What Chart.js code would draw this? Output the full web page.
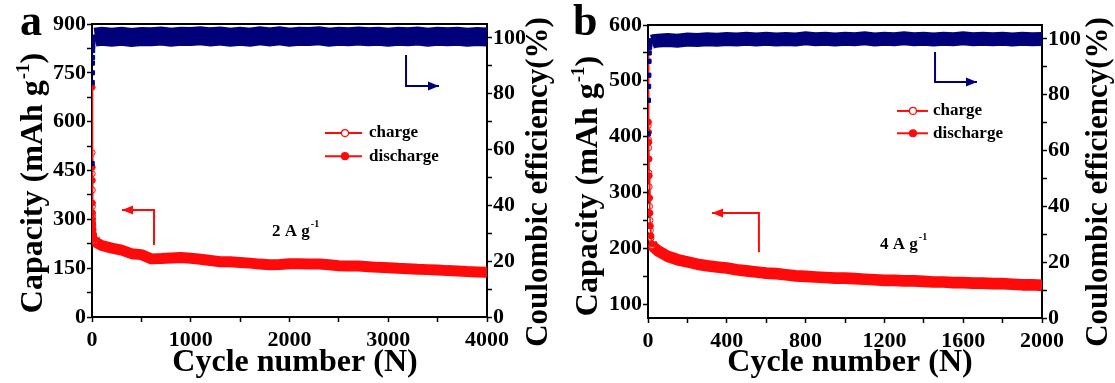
<!DOCTYPE html>
<html><head><meta charset="utf-8">
<script src="https://cdn.jsdelivr.net/npm/chart.js@4.4.1/dist/chart.umd.min.js"></script>
<style>
html,body{margin:0;padding:0;background:#fff;}
#wrap{position:relative;width:1115px;height:383px;overflow:hidden;background:#fff;}
.panel{position:absolute;top:0;height:383px;}
#pa{left:0;width:557px;}
#pb{left:557px;width:558px;}
</style></head><body>
<div id="wrap"><div class="panel" id="pa"><canvas id="ca"></canvas></div><div class="panel" id="pb"><canvas id="cb"></canvas></div></div>
<script>
// ---------------- DATA (panel a, 2 A g-1) ----------------
const cyclesEarlyA    = [1, 2, 3, 4, 5, 6, 8, 10, 15, 20, 30];
const dischargeEarlyA = [706, 460, 420, 350, 320, 300, 285, 270, 255, 245, 238];
const chargeEarlyA    = [505, 440, 390, 340, 310, 290, 278, 265, 250, 242, 234];
const ceEarlyA        = [55, 84, 87.5, 91, 93, 95.5, 97, 98.5, 99.5, 100, 100.3];

const cyclesA = [30, 50, 100, 200, 300, 400, 500, 600, 700, 800, 900, 1000, 1100, 1200, 1300, 1400, 1500,
  1600, 1700, 1800, 1900, 2000, 2100, 2200, 2300, 2400, 2500, 2600, 2700, 2800, 2900, 3000, 3100, 3200,
  3300, 3400, 3500, 3600, 3700, 3800, 3900, 4000];
const dischargeA = [238, 229, 221, 213, 207, 196, 193, 180, 181, 183, 184, 182, 179, 175, 171, 171, 169,
  167, 164, 162, 163, 165, 165, 164, 164, 162, 159, 158, 158, 156, 154, 153, 151, 150,
  148, 147, 146, 144, 143, 141, 140, 139];
const chargeA = [234, 226, 218, 210, 204, 193, 190, 177, 178, 180, 181, 179, 176, 172, 168, 168, 166,
  164, 161, 159, 160, 162, 162, 161, 161, 159, 156, 155, 155, 153, 151, 150, 148, 147,
  145, 144, 143, 141, 140, 138, 137, 136];
const ceA = [100.3, 100.4, 100.6, 100.3, 100.6, 100.2, 100.5, 100.4, 100.7, 100.3, 100.6, 100.5, 100.8, 100.4,
  100.7, 100.3, 100.6, 100.3, 100.8, 100.4, 100.8, 100.3, 100.6, 100.5, 100.8, 100.3, 100.6, 100.4,
  100.7, 100.4, 100.6, 100.3, 100.6, 100.4, 100.7, 100.3, 100.6, 100.4, 100.6, 100.3, 100.5, 100.3];

// ---------------- DATA (panel b, 4 A g-1) ----------------
const cyclesEarlyB    = [1, 2, 3, 4, 5, 6, 8, 10, 12, 15, 20];
const dischargeEarlyB = [566, 426, 408, 390, 360, 330, 290, 263, 240, 222, 208];
const chargeEarlyB    = [420, 395, 380, 360, 335, 310, 275, 250, 232, 218, 205];
const ceEarlyB        = [66, 78, 83, 87, 92, 95, 97, 98, 99, 99.3, 99.3];

const cyclesB = [20, 30, 50, 100, 150, 200, 250, 300, 350, 400, 450, 500, 550, 600, 650, 700, 750, 800,
  850, 900, 950, 1000, 1050, 1100, 1150, 1200, 1250, 1300, 1350, 1400, 1450, 1500, 1550, 1600,
  1650, 1700, 1750, 1800, 1850, 1900, 1950, 2000];
const dischargeB = [209, 203, 197, 187, 181, 177, 173, 170, 168, 166, 163, 161, 159, 157, 156, 154, 152, 151,
  150, 149, 148, 148, 147, 146, 145, 144, 144, 143, 143, 142, 141, 141, 140, 140,
  139, 139, 138, 138, 137, 136, 136, 135];
const chargeB = [205, 200, 194, 184, 178, 174, 170, 167, 165, 163, 160, 158, 156, 154, 153, 151, 149, 148,
  147, 146, 145, 145, 144, 143, 142, 141, 141, 140, 140, 139, 138, 138, 137, 137,
  136, 136, 135, 135, 134, 133, 133, 132];
const ceB = [99.0, 99.2, 99.4, 99.6, 99.4, 99.8, 99.6, 99.9, 99.7, 100.0, 99.8, 100.1, 99.8, 100.1, 99.8,
  100.0, 99.8, 100.2, 99.9, 100.1, 99.8, 100.1, 99.9, 100.2, 99.8, 100.1, 99.9, 100.2, 99.9, 100.1,
  99.8, 100.1, 99.9, 100.2, 99.9, 100.1, 99.9, 100.1, 99.8, 100.1, 99.9, 100.0];

// ---------------- STYLE / LAYOUT ----------------
const FONT = "'Liberation Serif', 'Times New Roman', serif";
const RED = '#ff0a0a';
const BLUE = '#00007a';
const tickFont = {family: FONT, size: 22, weight: 'bold'};

function pts(xs, ys) { return xs.map((x, i) => ({x: x, y: ys[i]})); }

function measureParts(ctx, parts, size) {
  let w = 0;
  for (const [t, sup] of parts) {
    ctx.font = 'bold ' + (sup ? Math.round(size * 0.58) : size) + 'px ' + FONT;
    w += ctx.measureText(t).width + (sup ? 1 : 0);
  }
  return w;
}
function drawParts(ctx, x, y, parts, size) {
  let cx = x;
  for (const [t, sup] of parts) {
    ctx.font = 'bold ' + (sup ? Math.round(size * 0.58) : size) + 'px ' + FONT;
    ctx.fillText(t, cx + (sup ? 1 : 0), sup ? y - size * 0.42 : y);
    cx += ctx.measureText(t).width + (sup ? 1 : 0);
  }
}
function arrow(ctx, p, color) {
  ctx.save();
  ctx.strokeStyle = color; ctx.fillStyle = color; ctx.lineWidth = 2;
  ctx.beginPath(); ctx.moveTo(p[0][0], p[0][1]);
  for (let i = 1; i < p.length; i++) ctx.lineTo(p[i][0], p[i][1]);
  ctx.stroke();
  const [x1, y1] = p[p.length - 2], [x2, y2] = p[p.length - 1];
  const a = Math.atan2(y2 - y1, x2 - x1), L = 11, W = 4.5;
  ctx.beginPath();
  ctx.moveTo(x2, y2);
  ctx.lineTo(x2 - L * Math.cos(a) + W * Math.sin(a), y2 - L * Math.sin(a) - W * Math.cos(a));
  ctx.lineTo(x2 - L * Math.cos(a) - W * Math.sin(a), y2 - L * Math.sin(a) + W * Math.cos(a));
  ctx.closePath(); ctx.fill();
  ctx.restore();
}

function makeDecor(cfg) {
  return {
    id: 'decor',
    afterDraw(chart) {
      const ctx = chart.ctx, ca = chart.chartArea;
      const sx = chart.scales.x, sy = chart.scales.y, sy2 = chart.scales.y2;
      ctx.save();
      // top frame line
      ctx.strokeStyle = '#000'; ctx.lineWidth = 2;
      ctx.beginPath(); ctx.moveTo(ca.left, ca.top); ctx.lineTo(ca.right, ca.top); ctx.stroke();
      ctx.fillStyle = '#000';
      ctx.textBaseline = 'alphabetic'; ctx.textAlign = 'left';
      // panel letter
      ctx.font = 'bold 44px ' + FONT;
      ctx.fillText(cfg.letter, cfg.letterX, 35);
      // bottom title
      ctx.font = 'bold 32px ' + FONT;
      ctx.textAlign = 'center';
      ctx.fillText('Cycle number (N)', cfg.bottomTitleX, 371);
      ctx.textAlign = 'left';
      // left title (rotated)
      const lparts = [['Capacity (mAh g', false], ['-1', true], [')', false]];
      let w = measureParts(ctx, lparts, 32);
      ctx.save(); ctx.translate(cfg.leftTitleX, cfg.leftTitleY); ctx.rotate(-Math.PI / 2);
      drawParts(ctx, -w / 2, 0, lparts, 32); ctx.restore();
      // right title (rotated, reading upwards)
      const rparts = [['Coulombic efficiency(%)', false]];
      w = measureParts(ctx, rparts, 31);
      ctx.save(); ctx.translate(cfg.rightTitleX, cfg.rightTitleY); ctx.rotate(-Math.PI / 2);
      drawParts(ctx, -w / 2, 0, rparts, 31); ctx.restore();
      // arrows
      arrow(ctx, cfg.redArrow.map(([x, y]) => [sx.getPixelForValue(x), sy.getPixelForValue(y)]), RED);
      arrow(ctx, cfg.blueArrow.map(([x, y]) => [sx.getPixelForValue(x), sy2.getPixelForValue(y)]), BLUE);
      // current density label
      ctx.fillStyle = '#000'; ctx.textBaseline = 'middle';
      drawParts(ctx, sx.getPixelForValue(cfg.rate[0]), sy.getPixelForValue(cfg.rate[1]),
        [[cfg.rateText, false], ['-1', true]], 17);
      // legend
      const lg = cfg.legend;
      const lx1 = sx.getPixelForValue(lg.x1), lx2 = sx.getPixelForValue(lg.x2), lxm = sx.getPixelForValue(lg.xm);
      const ltx = sx.getPixelForValue(lg.xt);
      [[lg.y1, 'charge', '#fff'], [lg.y2, 'discharge', RED]].forEach(([yv, txt, fill]) => {
        const py = sy.getPixelForValue(yv);
        ctx.strokeStyle = RED; ctx.lineWidth = 2;
        ctx.beginPath(); ctx.moveTo(lx1, py); ctx.lineTo(lx2, py); ctx.stroke();
        ctx.beginPath(); ctx.arc(lxm, py, 3.5, 0, Math.PI * 2);
        ctx.fillStyle = fill; ctx.fill(); ctx.lineWidth = 1.2; ctx.stroke();
        ctx.fillStyle = '#000'; ctx.font = 'bold 17px ' + FONT; ctx.textBaseline = 'middle';
        ctx.fillText(txt, ltx, py);
      });
      ctx.restore();
    }
  };
}

function axisY(cfg, which) {
  const right = which === 'y2';
  return {
    type: 'linear', position: right ? 'right' : 'left',
    min: right ? 0 : cfg.yMin, max: right ? cfg.y2Max : cfg.yMax,
    ticks: {stepSize: right ? 10 : cfg.yStep, autoSkip: false, includeBounds: false, color: '#000', font: tickFont,
      padding: 1, callback: (v) => (v % (right ? 20 : cfg.yMajor) === 0 ? String(v) : '')},
    grid: {drawOnChartArea: false, drawTicks: true, tickLength: 5, tickColor: '#000', tickWidth: 1.5},
    border: {display: true, color: '#000', width: 2},
    afterFit: (s) => { s.width = right ? cfg.rightW : cfg.leftW; }
  };
}

function makeChart(cfg, d) {
  return new Chart(document.getElementById(cfg.el), {
    type: 'line',
    data: {datasets: [
      {label: 'CE early', yAxisID: 'y2', data: pts(d.ce0x, d.ce0), showLine: false, pointStyle: 'rect',
        pointRadius: 3, pointBackgroundColor: BLUE, pointBorderColor: BLUE, borderColor: BLUE},
      {label: 'discharge early', yAxisID: 'y', data: pts(d.e0x, d.dis0), borderColor: RED, borderWidth: 1.5,
        pointRadius: 3, pointBackgroundColor: RED, pointBorderColor: RED, pointBorderWidth: 1},
      {label: 'charge early', yAxisID: 'y', data: pts(d.e0x, d.ch0), borderColor: RED, borderWidth: 1.5,
        pointRadius: 3, pointBackgroundColor: '#fff', pointBorderColor: RED, pointBorderWidth: 1},
      {label: 'discharge', yAxisID: 'y', data: pts(d.cx, d.dis), borderColor: RED, borderWidth: cfg.redW,
        pointRadius: 0, borderJoinStyle: 'round'},
      {label: 'charge', yAxisID: 'y', data: pts(d.cx, d.ch), borderColor: RED, borderWidth: cfg.redW,
        pointRadius: 0, borderJoinStyle: 'round'},
      {label: 'CE', yAxisID: 'y2', data: pts(d.cx, d.ce), borderColor: BLUE, borderWidth: cfg.blueW,
        pointRadius: 0, borderJoinStyle: 'miter'}
    ]},
    options: {
      responsive: true, maintainAspectRatio: false, animation: false, events: [],
      layout: {padding: {top: cfg.padTop, left: 0, right: 0, bottom: 0}},
      plugins: {legend: {display: false}, tooltip: {enabled: false}},
      scales: {
        x: {type: 'linear', position: 'bottom', min: 0, max: cfg.xMax,
          ticks: {stepSize: cfg.xStep, autoSkip: false, maxRotation: 0, includeBounds: false, color: '#000',
            font: tickFont, padding: 5, callback: (v) => (v % cfg.xMajor === 0 ? String(v) : '')},
          grid: {drawOnChartArea: false, drawTicks: true, tickLength: 5, tickColor: '#000', tickWidth: 1.5},
          border: {display: true, color: '#000', width: 2},
          afterFit: (s) => { s.height = cfg.bottomH; }},
        y: axisY(cfg, 'y'),
        y2: axisY(cfg, 'y2')
      }
    },
    plugins: [makeDecor(cfg)]
  });
}

makeChart({
  el: 'ca', letter: 'a', letterX: 20, xMax: 4000, xStep: 500, xMajor: 1000,
  yMin: 0, yMax: 900, yStep: 75, yMajor: 150, y2Max: 105,
  leftW: 92, rightW: 70, bottomH: 66, padTop: 24, redW: 10, blueW: 19,
  bottomTitleX: 295, leftTitleX: 42, leftTitleY: 183, rightTitleX: 547, rightTitleY: 182,
  redArrow: [[628, 221], [628, 329], [304, 329]],
  blueArrow: [[3180, 93.9], [3180, 82.8], [3514, 82.8]],
  rate: [1823, 261], rateText: '2 A g',
  legend: {x1: 2359, x2: 2734, xm: 2562, xt: 2805, y1: 565, y2: 494}
}, {e0x: cyclesEarlyA, dis0: dischargeEarlyA, ch0: chargeEarlyA, ce0x: cyclesEarlyA, ce0: ceEarlyA,
    cx: cyclesA, dis: dischargeA, ch: chargeA, ce: ceA});

makeChart({
  el: 'cb', letter: 'b', letterX: 16, xMax: 2000, xStep: 200, xMajor: 400,
  yMin: 75, yMax: 600, yStep: 50, yMajor: 100, y2Max: 105,
  leftW: 91, rightW: 73, bottomH: 65, padTop: 25, redW: 10, blueW: 14,
  bottomTitleX: 293, leftTitleX: 40, leftTitleY: 186, rightTitleX: 550, rightTitleY: 182,
  redArrow: [[563, 193], [563, 263], [325, 263]],
  blueArrow: [[1457, 95.3], [1457, 84.6], [1670, 84.6]],
  rate: [1178, 206], rateText: '4 A g',
  legend: {x1: 1264, x2: 1421, xm: 1345, xt: 1447, y1: 446, y2: 406}
}, {e0x: cyclesEarlyB, dis0: dischargeEarlyB, ch0: chargeEarlyB, ce0x: cyclesEarlyB, ce0: ceEarlyB,
    cx: cyclesB, dis: dischargeB, ch: chargeB, ce: ceB});
</script>
</body></html>
